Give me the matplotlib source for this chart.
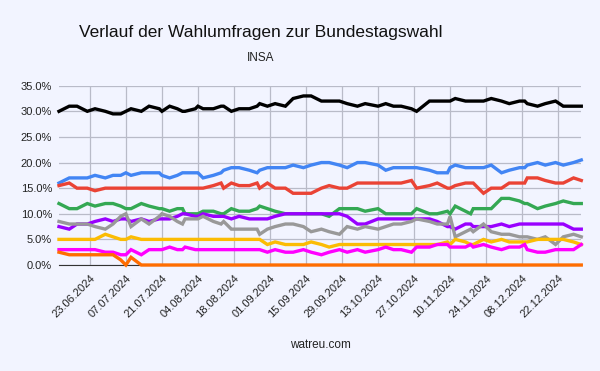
import matplotlib
matplotlib.use("Agg")
import matplotlib.pyplot as plt
import matplotlib.dates as mdates
import pandas as pd

plt.rcParams['font.family'] = ['Liberation Sans', 'DejaVu Sans']

# ------------------------- data (INSA polls) -------------------------
dates = ["2024-06-11", "2024-06-15", "2024-06-18", "2024-06-22", "2024-06-25",
         "2024-06-29", "2024-07-02", "2024-07-05", "2024-07-07", "2024-07-09",
         "2024-07-13", "2024-07-16", "2024-07-20", "2024-07-21", "2024-07-24",
         "2024-07-27", "2024-07-29", "2024-07-30", "2024-08-03", "2024-08-04",
         "2024-08-06", "2024-08-10", "2024-08-13", "2024-08-14", "2024-08-17",
         "2024-08-20", "2024-08-24", "2024-08-27", "2024-08-28", "2024-08-31",
         "2024-09-03", "2024-09-07", "2024-09-10", "2024-09-14", "2024-09-17",
         "2024-09-21", "2024-09-24", "2024-09-28", "2024-10-01", "2024-10-05",
         "2024-10-08", "2024-10-13", "2024-10-16", "2024-10-19", "2024-10-22",
         "2024-10-26", "2024-10-28", "2024-11-02", "2024-11-05", "2024-11-09",
         "2024-11-10", "2024-11-12", "2024-11-16", "2024-11-18", "2024-11-19",
         "2024-11-23", "2024-11-26", "2024-11-30", "2024-12-03", "2024-12-07",
         "2024-12-09", "2024-12-10", "2024-12-14", "2024-12-17", "2024-12-21",
         "2024-12-24", "2024-12-28", "2024-12-31"]

union = [30, 31, 31, 30, 30.5, 30, 29.5, 29.5, 30, 30.5,
         30, 31, 30.5, 30, 31, 30.5, 30, 30, 30.5, 31,
         30.5, 30.5, 31, 31, 30, 30.5, 30.5, 31, 31.5, 31,
         31.5, 31, 32.5, 33, 33, 32, 32, 32, 31.5, 31,
         31.5, 31, 31.5, 31, 31, 30.5, 30, 32, 32, 32,
         32, 32.5, 32, 32, 32, 32, 32.5, 32, 31.5, 32,
         32, 31.5, 31, 31.5, 32, 31, 31, 31]

afd = [16, 17, 17, 17, 17.5, 17, 17.5, 17.5, 18, 17.5,
       18, 18, 18, 17.5, 17, 17.5, 18, 18, 18, 18,
       17, 17.5, 18, 18.5, 19, 19, 18.5, 18, 18.5, 19,
       19, 19, 19.5, 19, 19.5, 20, 20, 19.5, 19, 20,
       20, 19.5, 18.5, 19, 19, 19, 19, 18.5, 18, 18,
       19, 19.5, 19, 19, 19, 19, 19.5, 18, 18.5, 19,
       19, 19.5, 20, 19.5, 20, 19.5, 20, 20.5]

spd = [15.5, 16, 15, 15, 14.5, 15, 15, 15, 15, 15,
       15, 15, 15, 15, 15, 15, 15, 15, 15, 15,
       15, 15.5, 16, 15, 16, 15.5, 15.5, 16, 15, 16,
       15, 15, 14, 14, 14, 15, 15.5, 15, 15, 16,
       16, 16, 16, 16, 16, 16.5, 15, 15.5, 16, 15,
       15, 15.5, 16, 16, 16, 14, 15, 15, 16, 16,
       16, 17, 17, 16.5, 16, 16, 17, 16.5]

gruene = [12, 11, 11, 12, 11.5, 12, 12, 11.5, 11, 11,
          12, 11.5, 11, 11, 10.5, 11, 11, 10, 10, 10,
          10.5, 10.5, 10, 10, 11, 10.5, 10.5, 11, 11.5, 11,
          10.5, 10, 10, 10, 10, 10, 9.5, 11, 11, 11,
          10.5, 11, 10, 10, 10, 10, 11, 10, 10, 10.5,
          10, 11.5, 10.5, 10, 11, 11, 11, 13, 13, 12.5,
          12, 12, 11, 11.5, 12, 12.5, 12, 12]

bsw = [7.5, 7, 8, 8, 8.5, 9, 8.5, 9, 9, 8.5,
       9, 8.5, 9, 9, 9, 9.5, 10, 10, 9.5, 9.5,
       10, 9.5, 9.5, 9.5, 9, 9.5, 9, 9, 9, 9,
       9.5, 10, 10, 10, 10, 10, 10, 10, 9.5, 8,
       8, 9, 9, 9, 9, 9, 9, 9, 8.5, 7.5,
       7.5, 7, 8, 8, 7.5, 7.5, 7.5, 8, 7.5, 8,
       8, 8, 8, 8, 8, 8, 7, 7]

fdp = [5, 5, 5, 5, 5, 6, 5.5, 5, 5, 5.5,
       5, 5, 5, 5, 5, 5, 5, 5, 5, 5,
       5, 5, 5, 5, 5, 5, 5, 5, 5, 4,
       4.5, 4, 4, 4, 4.5, 4, 3.5, 4, 4, 4,
       4, 4, 4, 4, 4, 4, 4, 4, 4, 4.5,
       4, 5, 4.5, 4, 4, 5, 4.5, 5, 4.5, 4.5,
       4.5, 4.5, 5, 5, 5, 5, 4.5, 4]

linke = [3, 3, 3, 3, 3, 2.5, 2.5, 2, 2, 3,
         2, 3, 3, 3, 3.5, 3, 3, 3.5, 3, 3,
         3, 3, 3, 3, 3, 3, 3, 3, 3, 2.5,
         3, 2.5, 2.5, 3, 2.5, 2, 2.5, 3, 2.5, 3,
         2.5, 3, 3.5, 3, 3, 2.5, 3.5, 3.5, 4, 4,
         3.5, 3.5, 3.5, 4, 3.5, 4, 3.5, 3, 3.5, 3.5,
         4, 3, 2.5, 2.5, 3, 3, 3, 4]

fw = [2.5, 2, 2, 2, 2, 2, 2, 1, 0, 1.5,
      0, 0, 0, 0, 0, 0, 0, 0, 0, 0,
      0, 0, 0, 0, 0, 0, 0, 0, 0, 0,
      0, 0, 0, 0, 0, 0, 0, 0, 0, 0,
      0, 0, 0, 0, 0, 0, 0, 0, 0, 0,
      0, 0, 0, 0, 0, 0, 0, 0, 0, 0,
      0, 0, 0, 0, 0, 0, 0, 0]

sonstige = [8.5, 8, 8, 8, 7.5, 7, 8, 9.5, 10, 7.5,
            9, 8, 9.5, 10, 9.5, 8.5, 8, 9, 9, 9,
            9.5, 8.5, 8, 8.5, 7, 7, 7, 7, 6, 7,
            7.5, 8, 8, 7.5, 6.5, 7, 6.5, 6, 7.5, 7,
            7.5, 7, 7.5, 8, 8, 8.5, 9, 8.5, 8, 8,
            9.5, 5.5, 6.5, 7, 6.5, 8, 6.5, 6, 6, 5.5,
            5.5, 5.5, 5, 5.5, 4, 5.5, 6, 5.5]

tick_dates = pd.date_range("2024-06-23", periods=14, freq="14D")

bg = '#f2f4ff'
x = pd.to_datetime(dates)

fig = plt.figure(figsize=(6, 3.71), dpi=100, facecolor=bg)
ax = fig.add_axes([0.0983, 0.2857, 0.8705, 0.4833], facecolor=bg)

series = [(union, '#000000'), (afd, '#4285f4'), (spd, '#ea4335'),
          (gruene, '#34a853'), (bsw, '#9900ff'), (sonstige, '#999999'),
          (fdp, '#fbbc04'), (linke, '#ff00ff'), (fw, '#ff6d01')]
for i, (vals, col) in enumerate(series):
    ax.plot(x, vals, color=col, lw=2.4, solid_joinstyle='miter', zorder=3 + i,
            clip_on=False)

ax.set_xlim(x[0], x[-1])
ax.set_ylim(0, 35)
ax.set_yticks(range(0, 36, 5))
ax.yaxis.set_major_formatter(matplotlib.ticker.FuncFormatter(lambda v, p: '%.1f%%' % v))
ax.set_xticks(tick_dates)
ax.xaxis.set_major_formatter(mdates.DateFormatter('%d.%m.%Y'))
plt.setp(ax.get_xticklabels(), rotation=45, ha='right', rotation_mode='anchor')

ax.grid(True, color='#b9bbc8', lw=0.9)
ax.set_axisbelow(True)
for s in ['top', 'right', 'left']:
    ax.spines[s].set_visible(False)
ax.spines['bottom'].set_color('#333333')
ax.spines['bottom'].set_zorder(2.5)
ax.tick_params(length=0, labelsize=8, colors='#222222')
ax.tick_params(axis='x', pad=6)
ax.tick_params(axis='y', pad=5)

fig.text(261 / 600, 1 - 32 / 371, 'Verlauf der Wahlumfragen zur Bundestagswahl',
         ha='center', va='center', fontsize=12.5, color='#111111')
fig.text(261 / 600, 1 - 58 / 371, 'INSA', ha='center', va='center',
         fontsize=8.5, color='#222222')
fig.text(320 / 600, 1 - 345 / 371, 'watreu.com', ha='center', va='center',
         fontsize=8.5, color='#222222')

fig.savefig("out.png", dpi=100, facecolor=bg)
